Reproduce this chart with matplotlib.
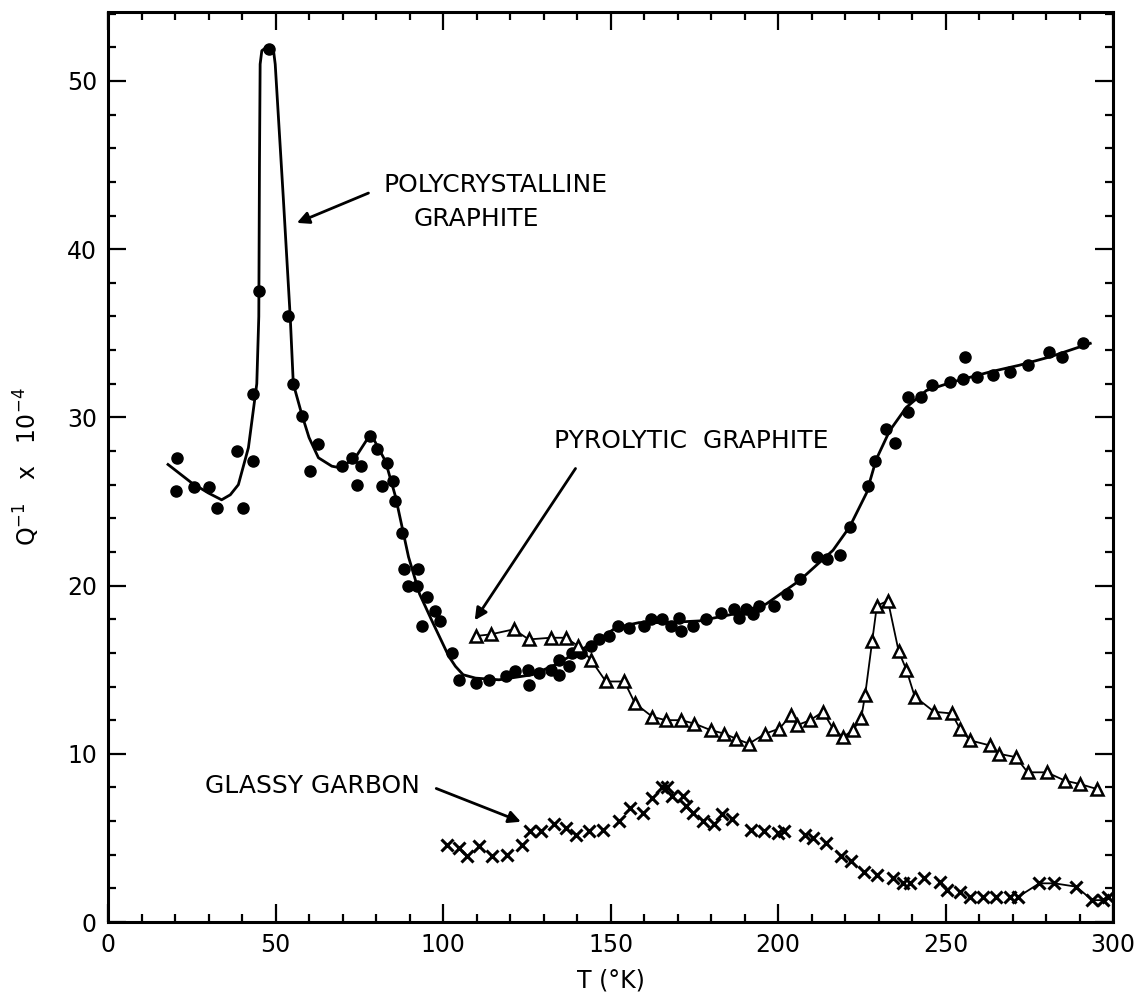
import numpy as np
import matplotlib.pyplot as plt
from matplotlib.ticker import MultipleLocator

# polycrystalline graphite: measured points (filled dots)
poly_T = [20.6, 20.3, 25.6, 30.2, 32.4, 38.4, 40.2, 43.3, 43.3, 45.0, 47.9, 53.8,
          55.3, 58.0, 60.4, 62.8, 69.8, 72.8, 74.4, 75.6, 78.3, 80.3, 81.8, 83.4,
          85.0, 85.8, 87.7, 88.3, 89.5, 92.4, 92.3, 93.6, 95.3, 97.5, 99.2, 102.7,
          104.7, 109.7, 113.7, 118.8, 121.6, 125.4, 125.6, 128.6, 132.1, 134.6,
          134.6, 137.6, 138.6, 141.1, 144.1, 146.6, 149.6, 152.1, 155.5, 160.0,
          162.0, 165.5, 168.0, 170.5, 171.0, 174.5, 178.5, 183.0, 187.0, 188.2,
          190.4, 192.4, 194.4, 198.9, 202.7, 206.7, 211.6, 214.6, 218.4, 221.6,
          226.8, 228.8, 232.3, 234.8, 238.8, 238.8, 242.8, 246.1, 251.3, 255.2,
          259.3, 264.1, 255.8, 269.2, 274.6, 280.9, 284.8, 291.1]
poly_Q = [27.6, 25.6, 25.85, 25.85, 24.6, 28.0, 24.6, 27.4, 31.4, 37.5, 51.9, 36.0,
          32.0, 30.1, 26.8, 28.4, 27.1, 27.6, 26.0, 27.1, 28.9, 28.1, 25.9, 27.3,
          26.2, 25.0, 23.1, 21.0, 20.0, 21.0, 20.0, 17.6, 19.3, 18.5, 17.9, 16.0,
          14.4, 14.2, 14.4, 14.6, 14.9, 15.0, 14.1, 14.8, 15.0, 14.7,
          15.6, 15.2, 16.0, 16.0, 16.4, 16.8, 17.0, 17.6, 17.5, 17.6,
          18.0, 18.0, 17.6, 18.1, 17.3, 17.6, 18.0, 18.4, 18.6, 18.1,
          18.6, 18.3, 18.8, 18.8, 19.5, 20.4, 21.7, 21.6, 21.8, 23.5,
          25.9, 27.4, 29.3, 28.5, 30.3, 31.2, 31.2, 31.9, 32.1, 32.3,
          32.4, 32.5, 33.6, 32.7, 33.1, 33.9, 33.6, 34.4]

# hand-drawn fit curve through the polycrystalline data
fit_T = [17.9, 25.0, 30.0, 33.9, 36.5, 38.9, 41.9, 44.4, 45.0, 45.2, 45.4, 45.9,
         47.9, 49.4, 49.9, 52.3, 54.4, 55.3, 57.8, 60.0, 62.8, 66.8, 69.3, 73.8,
         78.0, 79.3, 82.8, 85.8, 89.7, 93.0, 96.7, 101.7, 103.7, 106.0, 109.7,
         116.7, 126.6, 133.6, 139.6, 146.6, 151.6, 158.5, 166.5, 176.5, 186.5,
         196.4, 206.4, 216.4, 221.4, 226.4, 229.3, 233.3, 238.3, 244.3, 252.0,
         263.2, 272.0, 281.2, 293.2]
fit_Q = [27.2, 26.1, 25.5, 25.1, 25.4, 26.0, 28.2, 32.0, 36.0, 45.0, 51.0, 51.8,
         52.1, 51.8, 51.0, 43.1, 35.9, 32.0, 30.2, 28.8, 27.6, 27.1, 27.0, 27.6,
         28.9, 28.7, 27.4, 25.3, 21.7, 19.5, 17.9, 15.8, 15.2, 14.7, 14.5,
         14.4, 14.7, 15.3, 16.0, 16.8, 17.5, 17.8, 17.8, 17.9, 18.3,
         18.9, 20.3, 22.1, 23.5, 25.5, 27.5, 29.2, 30.6, 31.6, 32.1,
         32.7, 33.1, 33.6, 34.4]

# pyrolytic graphite (open triangles)
pyro_T = [109.7, 114.2, 121.1, 125.6, 132.1, 136.6, 140.4, 144.1, 148.6, 154.1,
          157.3, 162.5, 166.5, 171.0, 175.0, 180.0, 184.0, 187.4, 191.3, 196.2,
          200.4, 203.9, 205.7, 209.6, 213.4, 216.4, 219.4, 222.3, 224.8, 226.0,
          228.1, 229.5, 232.8, 236.0, 238.3, 240.8, 246.6, 251.8, 254.3, 257.3,
          263.2, 266.0, 271.0, 274.5, 280.2, 285.7, 290.2, 295.3]
pyro_Q = [17.0, 17.1, 17.4, 16.8, 16.9, 16.9, 16.4, 15.6, 14.3, 14.3,
          13.0, 12.2, 12.0, 12.0, 11.8, 11.4, 11.2, 10.9, 10.6, 11.2,
          11.5, 12.3, 11.7, 12.0, 12.5, 11.5, 11.0, 11.4, 12.1, 13.5,
          16.7, 18.8, 19.1, 16.1, 15.0, 13.4, 12.5, 12.4, 11.5, 10.8,
          10.5, 10.0, 9.8, 8.9, 8.9, 8.4, 8.2, 7.9]

# glassy carbon (crosses)
glassy_T = [101.2, 104.7, 107.2, 110.7, 114.5, 119.2, 123.6, 126.1, 129.3, 133.1,
            136.8, 139.6, 143.6, 147.8, 152.6, 155.9, 159.8, 162.5, 165.5, 167.0,
            168.3, 171.5, 172.5, 174.5, 177.7, 181.0, 183.3, 186.4, 191.9, 195.9,
            199.9, 201.9, 207.9, 210.4, 214.4, 218.7, 221.7, 225.6, 229.6, 234.3,
            237.3, 239.3, 243.6, 248.3, 250.3, 254.3, 257.3, 261.2, 265.2, 269.2,
            271.7, 278.0, 282.5, 289.0, 293.8, 296.9, 298.6]
glassy_Q = [4.6, 4.4, 3.9, 4.5, 3.9, 4.0, 4.6, 5.4, 5.4, 5.8,
            5.6, 5.2, 5.4, 5.5, 6.0, 6.8, 6.5, 7.4, 8.0, 8.0,
            7.5, 7.5, 6.9, 6.5, 6.0, 5.8, 6.4, 6.1, 5.5, 5.4,
            5.3, 5.4, 5.2, 5.0, 4.7, 3.9, 3.6, 3.0, 2.8, 2.6,
            2.3, 2.3, 2.6, 2.4, 1.9, 1.8, 1.5, 1.5, 1.5, 1.5,
            1.5, 2.3, 2.3, 2.1, 1.3, 1.3, 1.5]
GLASSY_LINE_FROM = 271.0  # the crosses are joined by a line only at the high-T end

plt.rcParams["font.family"] = "DejaVu Sans"

fig = plt.figure(figsize=(11.47, 10.01), dpi=100)
ax = fig.add_axes([0.0942, 0.0789, 0.8762, 0.9091])

ax.plot(fit_T, fit_Q, color="black", lw=2.0, zorder=2)
ax.plot(poly_T, poly_Q, "o", color="black", ms=8, zorder=3)

ax.plot(pyro_T, pyro_Q, "-", color="black", lw=1.3, marker="^", ms=9,
        mfc="white", mec="black", mew=1.8, zorder=3)

gT = np.array(glassy_T)
gQ = np.array(glassy_Q)
tail = gT >= GLASSY_LINE_FROM
ax.plot(gT[tail], gQ[tail], "-", color="black", lw=1.3, zorder=2)
ax.plot(gT, gQ, "x", color="black", ms=8, mew=2.2, zorder=3)

# annotations
txt = dict(fontsize=18, color="black", ha="center", va="center")
arrow = dict(arrowstyle="-|>", color="black", lw=2.0, mutation_scale=18)
ax.text(115.8, 43.8, "POLYCRYSTALLINE", **txt)
ax.text(109.8, 41.8, "GRAPHITE", **txt)
ax.annotate("", xy=(55.6, 41.5), xytext=(78.5, 43.4), arrowprops=arrow)
ax.text(174.0, 28.6, "PYROLYTIC  GRAPHITE", **txt)
ax.annotate("", xy=(109.0, 17.8), xytext=(140.0, 27.1), arrowprops=arrow)
ax.text(61.0, 8.1, "GLASSY GARBON", **txt)
ax.annotate("", xy=(124.0, 5.9), xytext=(97.2, 8.0), arrowprops=arrow)

ax.set_xlim(0, 300)
ax.set_ylim(0, 54.1)
ax.xaxis.set_major_locator(MultipleLocator(50))
ax.xaxis.set_minor_locator(MultipleLocator(10))
ax.yaxis.set_major_locator(MultipleLocator(10))
ax.yaxis.set_minor_locator(MultipleLocator(2))
ax.tick_params(which="both", direction="in", top=True, right=True, width=1.6,
               labelsize=17, pad=8)
ax.tick_params(which="major", length=13)
ax.tick_params(which="minor", length=6)
for s in ax.spines.values():
    s.set_linewidth(2.2)

ax.set_xlabel("T (°K)", fontsize=17, labelpad=8)
ax.set_ylabel(r"Q$^{-1}$   x   10$^{-4}$", fontsize=17, labelpad=18)

fig.savefig("out.png", dpi=100)
